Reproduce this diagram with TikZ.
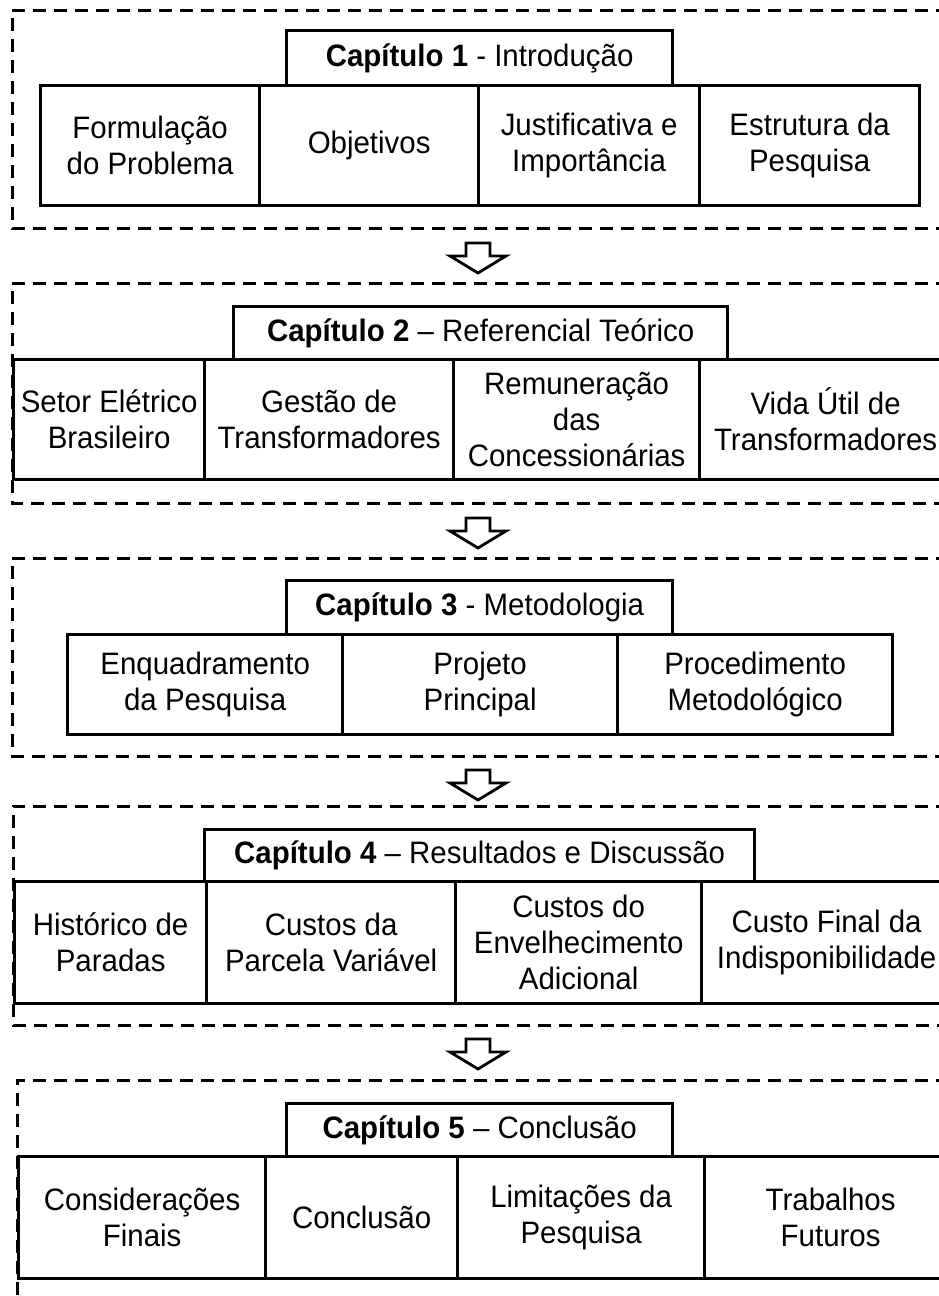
\documentclass[tikz,border=0pt]{standalone}
\usepackage{fontspec}
\setmainfont{Liberation Sans}[FakeStretch=0.95]
\newcommand\boxfont{\fontsize{31}{36}\selectfont}
\tikzset{
  cellbox/.style={draw, line width=3.3pt, anchor=north west, align=center, inner sep=0pt, font=\boxfont},
  sectline/.style={line width=3pt, dash pattern=on 13pt off 8pt},
  blockarrow/.style={line width=2.8pt, miter limit=10, fill=white}
}
\newcommand\cellnode[6]{\node[cellbox, minimum width={(#4-(#2))*1pt}, minimum height={(#5-(#3))*1pt}] (#1) at (#2,#3) {#6};}
\newcommand\blockdown[1]{\draw[blockarrow] (#1) ++(-12,0) -- ++(24,0) -- ++(0,13) -- ++(16,0) -- ++(-28,17) -- ++(-28,-17) -- ++(16,0) -- cycle;}
\begin{document}
\begin{tikzpicture}[x=1pt,y=-1pt]
\useasboundingbox (0,0) rectangle (939,1296);
\fill[white] (0,0) rectangle (939,1296);
\clip (0,0) rectangle (939,1296);

% Section 1
\draw[sectline] (970,10) -- (12,10) -- (12,228) -- (970,228);
\cellnode{t1}{285}{29}{671}{84}{\textbf{Capítulo 1} - Introdução}
\cellnode{b11}{39}{84}{258}{204}{Formulação\\do Problema}
\cellnode{b12}{258}{84}{477}{204}{Objetivos}
\cellnode{b13}{477}{84}{698}{204}{Justificativa e\\Importância}
\cellnode{b14}{698}{84}{918}{204}{Estrutura da\\Pesquisa}
\coordinate (a1) at (478,243);
\blockdown{a1}

% Section 2
\draw[sectline] (970,283) -- (12,283) -- (12,503) -- (970,503);
\cellnode{t2}{232}{305}{726}{358}{\textbf{Capítulo 2} – Referencial Teórico}
\cellnode{b21}{12}{358}{203}{478}{Setor Elétrico\\Brasileiro}
\cellnode{b22}{203}{358}{452}{478}{Gestão de\\Transformadores}
\cellnode{b23}{452}{358}{698}{478}{Remuneração\\das\\Concessionárias}
\cellnode{b24}{698}{358}{950}{478}{Vida Útil de\\Transformadores}
\coordinate (a2) at (478,518);
\blockdown{a2}

% Section 3
\draw[sectline] (970,558) -- (12,558) -- (12,756) -- (970,756);
\cellnode{t3}{285}{579}{671}{633}{\textbf{Capítulo 3} - Metodologia}
\cellnode{b31}{66}{633}{341}{733}{Enquadramento\\da Pesquisa}
\cellnode{b32}{341}{633}{616}{733}{Projeto\\Principal}
\cellnode{b33}{616}{633}{891}{733}{Procedimento\\Metodológico}
\coordinate (a3) at (478,770);
\blockdown{a3}

% Section 4
\draw[sectline] (970,806) -- (13,806) -- (13,1025) -- (970,1025);
\cellnode{t4}{203}{828}{753}{880}{\textbf{Capítulo 4} – Resultados e Discussão}
\cellnode{b41}{13}{880}{205}{1002}{Histórico de\\Paradas}
\cellnode{b42}{205}{880}{454}{1002}{Custos da\\Parcela Variável}
\cellnode{b43}{454}{880}{700}{1002}{Custos do\\Envelhecimento\\Adicional}
\cellnode{b44}{700}{880}{950}{1002}{Custo Final da\\Indisponibilidade}
\coordinate (a4) at (478,1039);
\blockdown{a4}

% Section 5
\draw[sectline] (970,1080) -- (17,1080) -- (17,1320);
\cellnode{t5}{285}{1102}{671}{1155}{\textbf{Capítulo 5} – Conclusão}
\cellnode{b51}{17}{1155}{264}{1277}{Considerações\\Finais}
\cellnode{b52}{264}{1155}{456}{1277}{Conclusão}
\cellnode{b53}{456}{1155}{703}{1277}{Limitações da\\Pesquisa}
\cellnode{b54}{703}{1155}{955}{1277}{Trabalhos\\Futuros}
\end{tikzpicture}
\end{document}
